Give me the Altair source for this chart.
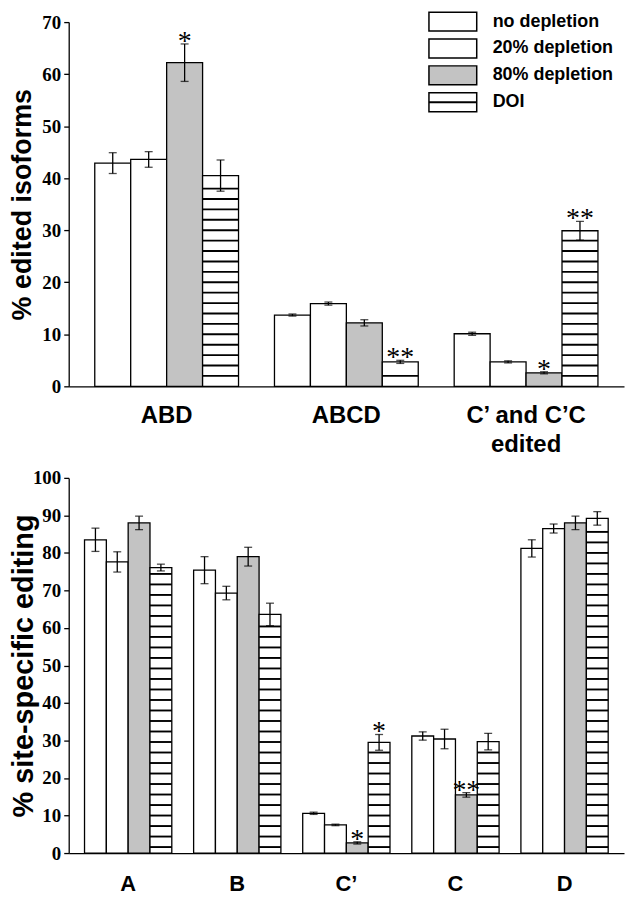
import altair as alt
import pandas as pd

# ---------------- data ----------------
series = ["no depletion", "20% depletion", "80% depletion", "DOI"]
fills = ["white", "white", "#c3c3c3", "white"]

top_groups = ["ABD", "ABCD", "C\u2019 and C\u2019C\nedited"]
top_no = [42.9, 13.7, 10.1]
top_20 = [43.6, 15.9, 4.7]
top_80 = [62.2, 12.2, 2.6]
top_doi = [40.5, 4.7, 29.9]
top_no_err = [2.0, 0.2, 0.3]
top_20_err = [1.5, 0.3, 0.2]
top_80_err = [3.6, 0.6, 0.2]
top_doi_err = [3.0, 0.3, 1.8]
top_80_sig = ["*", "", "*"]
top_doi_sig = ["", "**", "**"]

bot_groups = ["A", "B", "C\u2019", "C", "D"]
bot_no = [83.5, 75.4, 10.6, 31.2, 81.2]
bot_20 = [77.6, 69.3, 7.5, 30.4, 86.5]
bot_80 = [88.0, 79.0, 2.7, 15.5, 88.0]
bot_doi = [76.1, 63.6, 29.5, 29.7, 89.2]
bot_no_err = [3.1, 3.6, 0.3, 1.1, 2.3]
bot_20_err = [2.7, 1.8, 0.2, 2.6, 1.2]
bot_80_err = [1.8, 2.5, 0.3, 0.6, 1.8]
bot_doi_err = [0.9, 3.0, 2.1, 2.2, 1.8]
bot_80_sig = ["", "", "*", "**", ""]
bot_doi_sig = ["", "", "*", "", ""]


def make_df(groups, vals, errs, sigs):
    rows = []
    for s, v, e, m in zip(series, vals, errs, sigs):
        for i, g in enumerate(groups):
            rows.append(dict(group=g, series=s, value=v[i], err=e[i], sig=m[i]))
    df = pd.DataFrame(rows)
    df["lo"] = df["value"] - df["err"]
    df["hi"] = df["value"] + df["err"]
    return df


top_df = make_df(top_groups, [top_no, top_20, top_80, top_doi],
                 [top_no_err, top_20_err, top_80_err, top_doi_err],
                 [[""] * 3, [""] * 3, top_80_sig, top_doi_sig])
bot_df = make_df(bot_groups, [bot_no, bot_20, bot_80, bot_doi],
                 [bot_no_err, bot_20_err, bot_80_err, bot_doi_err],
                 [[""] * 5, [""] * 5, bot_80_sig, bot_doi_sig])


def stripe_df(df, start, step, thick):
    rows = []
    for _, r in df[df["series"] == "DOI"].iterrows():
        y = start
        while y < r["value"] - 0.35 * step:
            rows.append(dict(group=r["group"], series=r["series"],
                             y=y - thick / 2, y2=y + thick / 2))
            y += step
    return pd.DataFrame(rows)


SANS = "Liberation Sans"
SERIF = "Liberation Serif"
W = 558
fill_scale = alt.Scale(domain=series, range=fills)


def panel(df, groups, ymax, height, title, title_size, title_x, label_size, label_pad,
          p_outer, s_start, s_step):
    x = alt.X("group:N", sort=groups,
              scale=alt.Scale(domain=groups, paddingInner=0.2, paddingOuter=p_outer),
              axis=alt.Axis(title=None, ticks=False, labelAngle=0,
                            labelExpr="split(datum.label, '\\n')",
                            labelFont=SANS, labelFontSize=label_size,
                            labelFontWeight="bold", labelColor="black",
                            labelPadding=label_pad, labelLineHeight=29,
                            domainColor="black", domainWidth=1.3))
    xo = alt.XOffset("series:N", sort=series,
                     scale=alt.Scale(domain=series, paddingInner=0, paddingOuter=0))
    yscale = alt.Scale(domain=[0, ymax], nice=False)
    yaxis = alt.Axis(title=title, values=list(range(0, ymax + 1, 10)), grid=False,
                     tickSize=5, tickColor="black", tickWidth=1.3,
                     domainColor="black", domainWidth=1.3,
                     labelFont=SERIF, labelFontSize=19, labelFontWeight="bold",
                     labelColor="black", labelPadding=3,
                     titleFont=SANS, titleFontSize=title_size, titleFontWeight="bold",
                     titleColor="black", titleX=title_x)
    base = alt.Chart(df)
    bars = base.mark_bar(stroke="black", strokeWidth=1.3).encode(
        x=x, xOffset=xo,
        y=alt.Y("value:Q", scale=yscale, axis=yaxis),
        fill=alt.Fill("series:N", scale=fill_scale, legend=None))
    thick = 1.9 * ymax / height
    stripes = alt.Chart(stripe_df(df, s_start, s_step, thick)).mark_bar(
        color="black").encode(
        x=x, xOffset=xo,
        y=alt.Y("y:Q", scale=yscale, axis=yaxis), y2="y2:Q")
    err = base.mark_rule(color="black", strokeWidth=1.3).encode(
        x=x, xOffset=xo, y=alt.Y("lo:Q", scale=yscale, axis=yaxis), y2="hi:Q")
    cap_lo = base.mark_tick(color="black", size=8, thickness=1.3).encode(
        x=x, xOffset=xo, y=alt.Y("lo:Q", scale=yscale, axis=yaxis))
    cap_hi = base.mark_tick(color="black", size=8, thickness=1.3).encode(
        x=x, xOffset=xo, y=alt.Y("hi:Q", scale=yscale, axis=yaxis))
    stars = base.transform_filter("datum.sig != ''").mark_text(
        font=SERIF, fontSize=28, baseline="alphabetic", dy=6, color="black").encode(
        x=x, xOffset=xo, y=alt.Y("hi:Q", scale=yscale, axis=yaxis), text="sig:N")
    return alt.layer(bars, stripes, err, cap_lo, cap_hi, stars)


# ---------------- legend (drawn as a guide layer in the top panel) ----------------
leg_df = pd.DataFrame({"series": series})
leg_y = alt.Y("series:N", sort=series,
              scale=alt.Scale(domain=series, range=[-10, 90], paddingInner=0.296,
                              paddingOuter=0),
              axis=None)
leg_base = alt.Chart(leg_df)
leg_boxes = leg_base.mark_rect(stroke="black", strokeWidth=1.5).encode(
    x=alt.value(362), x2=alt.value(410), y=leg_y,
    fill=alt.Fill("series:N", scale=fill_scale, legend=None))
leg_line = leg_base.transform_filter("datum.series == 'DOI'").mark_rule(
    color="black", strokeWidth=2).encode(x=alt.value(362), x2=alt.value(410), y=leg_y)
leg_text = leg_base.mark_text(align="left", baseline="middle", font=SANS,
                              fontSize=18, fontWeight="bold", color="black").encode(
    x=alt.value(426), y=leg_y, text="series:N")
legend = alt.layer(leg_boxes, leg_line, leg_text)

TOP_H = 366
BOT_H = 377
top_plot = panel(top_df, top_groups, 70, TOP_H, "% edited isoforms", 27, -32.5, 24, 17,
                 0.145, 2.0, 2.0)
top = alt.layer(top_plot, legend).resolve_scale(y="independent").properties(
    width=W, height=TOP_H)
bottom = panel(bot_df, bot_groups, 100, BOT_H, "% site-specific editing", 29, -30.5, 22, 21,
               0.145, 1.6, 2.8).properties(width=W, height=BOT_H)

chart = alt.vconcat(top, bottom, spacing=11).resolve_scale(
    xOffset="independent"
).properties(
    padding=0, background="white"
).configure_view(stroke="transparent")

chart.save("out.html", embed_options={"renderer": "svg", "actions": False})
